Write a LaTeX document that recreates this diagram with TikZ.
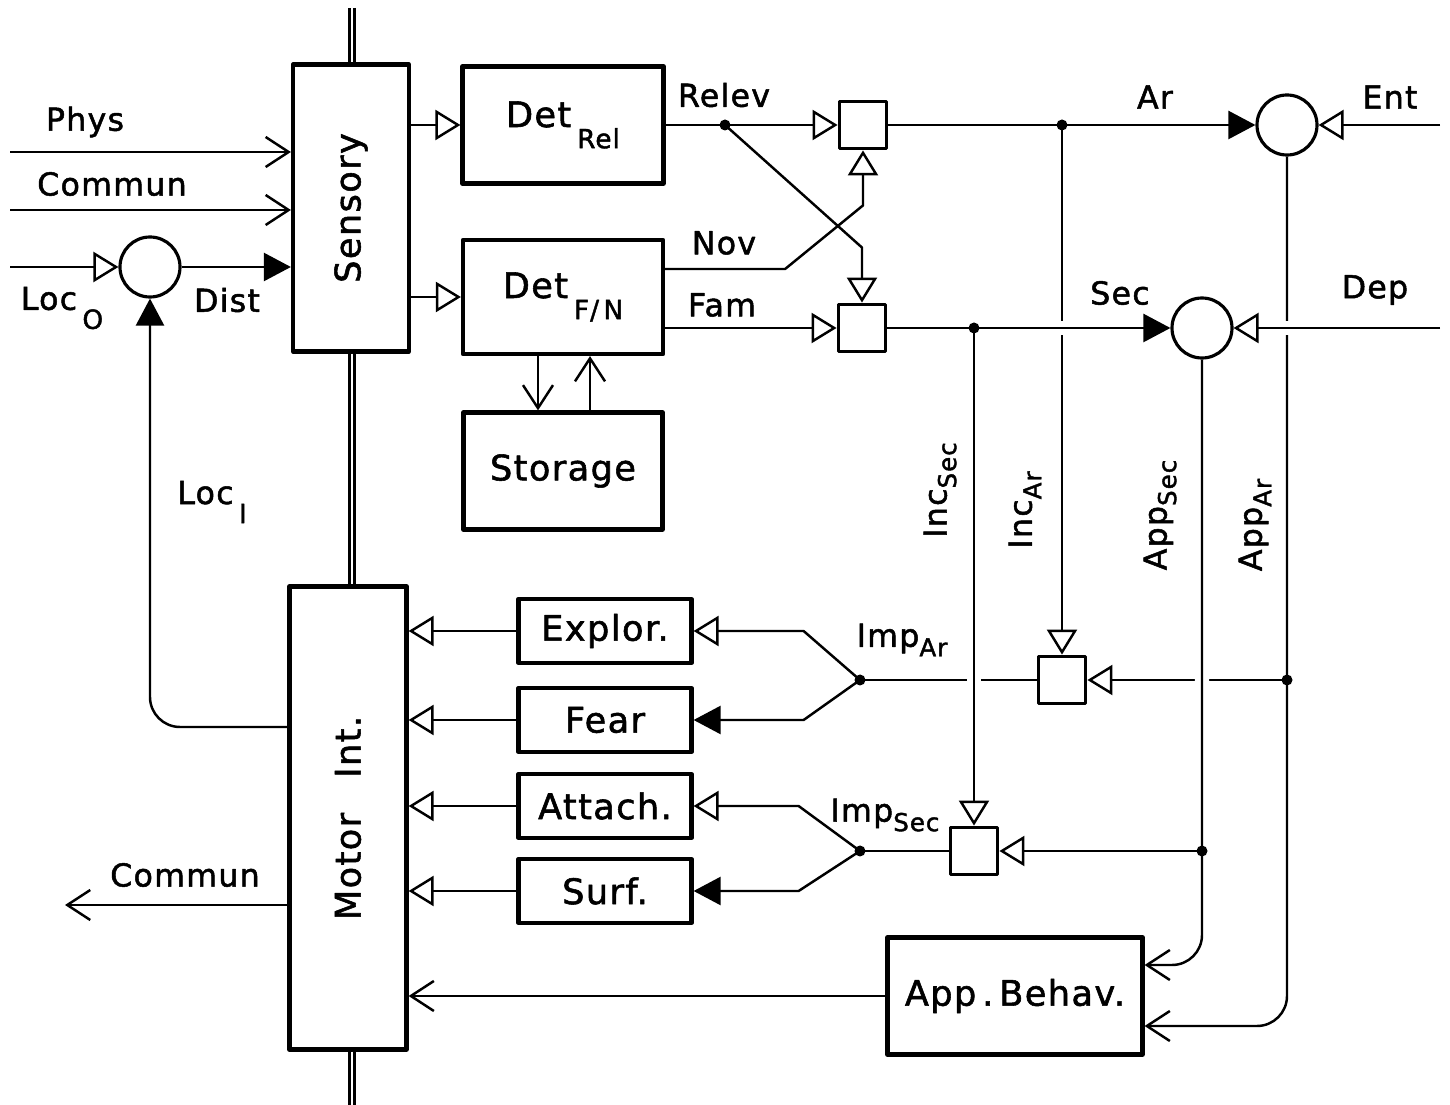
\documentclass[tikz,border=0pt]{standalone}
\usepackage{fontspec}
\setmainfont{DejaVu Sans}[LetterSpace=4, FakeBold=1.6]
\usetikzlibrary{arrows.meta,calc}
\newcommand\boxfont{\fontsize{10}{12}\selectfont}
\newcommand\lblfont{\fontsize{9}{11}\selectfont}
\newcommand\sbs[1]{\raisebox{-0.55ex}{\fontsize{7}{8}\selectfont #1}}
\newcommand\sbl[1]{\raisebox{-1.1ex}{\fontsize{7.5}{8}\selectfont #1}}
\begin{document}
\begin{tikzpicture}[x=0.1mm, y=-0.1mm, line width=0.7pt, line join=round,
	box/.style={draw, line width=1.2pt, inner sep=0pt, font=\boxfont},
	sq/.style={draw, line width=1.1pt, minimum size=4.7mm, inner sep=0pt},
	sumc/.style={draw, circle, line width=0.9pt, minimum size=6mm, inner sep=0pt},
	lbl/.style={font=\lblfont, inner sep=0pt},
	oto/.style={-{Triangle[open, length=2.5mm, width=3mm]}},
	fto/.style={-{Triangle[length=2.7mm, width=2.8mm]}},
	vto/.style={-{Straight Barb[length=2.3mm, width=3mm]}},
	hop/.style={preaction={draw=white, line width=4pt, arrows=-, shorten <=2.5mm, shorten >=2.5mm}},
	bus/.style={double, double distance=0.35pt, line width=0.9pt}]
	\useasboundingbox (0,0) rectangle (1450,1105);
	% blocks
	\node[box, minimum width=11.6mm, minimum height=28.7mm] (sensory) at (351,208) {\rotatebox{90}{Sensory}};
	\node[box, minimum width=20.1mm, minimum height=11.7mm] (detrel) at (563,125) {Det\,\sbl{Rel}};
	\node[box, minimum width=20mm, minimum height=11.4mm] (detfn) at (563,297) {Det\,\sbl{F/\,N}};
	\node[box, minimum width=19.9mm, minimum height=11.7mm] (storage) at (563,471) {Storage};
	\node[box, minimum width=11.7mm, minimum height=46.3mm] (motor) at (348,818) {\rotatebox{90}{Motor\quad Int.}};
	\foreach \n/\t/\y in {explor/Explor./631, fear/Fear/720, attach/Attach./806, surf/Surf./891}
		\node[box, minimum width=17.3mm, minimum height=6.4mm] (\n) at (605,\y) {\t};
	\node[box, minimum width=25.5mm, minimum height=11.7mm] (appbeh) at (1015,996) {App\,.\,Behav.};
	% comparators
	\node[sumc] (cloc) at (150,267) {};
	\node[sumc] (car) at (1287,125) {};
	\node[sumc] (csec) at (1202,328) {};
	\node[sq] (sqrel) at (863,125) {};
	\node[sq] (sqfam) at (862,328) {};
	\node[sq] (sqar) at (1062,680) {};
	\node[sq] (sqsec) at (974,851) {};
	% junctions and free ends
	\coordinate (drelev) at (725,125);
	\coordinate (dar) at (1062,125);
	\coordinate (dsec) at (974,328);
	\coordinate (dimpar) at (860,680);
	\coordinate (dimpsec) at (860,851);
	\coordinate (dappar) at (1287,680);
	\coordinate (dappsec) at (1202,851);
	\coordinate (physin) at (10,152);
	\coordinate (commin) at (10,210);
	\coordinate (locin) at (10,267);
	\coordinate (commout) at (65,905);
	\coordinate (entin) at (1440,125);
	\coordinate (depin) at (1440,328);
	\coordinate (bustop) at (352,8);
	\coordinate (busbot) at (352,1105);
	% bus
	\draw[bus] (bustop) -- (bustop |- sensory.north);
	\draw[bus] (bustop |- sensory.south) -- (bustop |- motor.north);
	\draw[bus] (bustop |- motor.south) -- (busbot);
	% left side
	\draw[vto] (physin) -- (physin -| sensory.west);
	\draw[vto] (commin) -- (commin -| sensory.west);
	\draw[oto] (locin) -- (cloc);
	\draw[fto] (cloc) -- (cloc -| sensory.west);
	\draw[fto, rounded corners=3mm] ($(motor.west)+(0,-91)$) -| (cloc.south);
	\draw[vto] (commout -| motor.west) -- (commout);
	% detectors
	\draw[oto] (sensory.east |- detrel) -- (detrel.west);
	\draw[oto] (sensory.east |- detfn) -- (detfn.west);
	\draw[vto] ($(detfn.south)+(-25,0)$) -- ($(storage.north)+(-25,0)$);
	\draw[vto] ($(storage.north)+(27,0)$) -- ($(detfn.south)+(27,0)$);
	\draw (detrel.east) -- (drelev);
	\draw[oto] (drelev) -- (sqrel.west);
	\draw[oto] (drelev) -- ($(sqfam.north)+(0,-55)$) -- (sqfam.north);
	\draw[oto] ($(detfn.east)+(0,-28)$) -- ++(120,0) -- ($(sqrel.south)+(0,55)$) -- (sqrel.south);
	\draw[oto] ($(detfn.east)+(0,31)$) -- (sqfam.west);
	% arousal / security
	\draw (sqrel.east) -- (dar);
	\draw[fto] (dar) -- (car.west);
	\draw[oto] (entin) -- (car.east);
	\draw[oto] (dar) -- (sqar.north);
	\draw[vto, rounded corners=3mm] (car.south) |- ($(appbeh.east)+(0,30)$);
	\draw (sqfam.east) -- (dsec);
	\draw[fto, hop] (dsec) -- (csec.west);
	\draw[oto, hop] (depin) -- (csec.east);
	\draw (dimpar) -- (sqar.west);
	\draw[oto] (dappar) -- (sqar.east);
	\draw[oto, hop] (dsec) -- (sqsec.north);
	\draw[vto, hop, rounded corners=3mm] (csec.south) |- ($(appbeh.east)+(0,-31)$);
	\draw[oto] (dappsec) -- (sqsec.east);
	\draw (dimpsec) -- (sqsec.west);
	% behaviour systems
	\foreach \b/\c/\t/\d in {explor/dimpar/oto/110, fear/dimpar/fto/110, attach/dimpsec/oto/105, surf/dimpsec/fto/105}
		\draw[\t] (\c) -- ($(\b.east)+(\d,0)$) -- (\b.east);
	\foreach \b in {explor,fear,attach,surf}
		\draw[oto] (\b.west) -- (\b.west -| motor.east);
	\draw[vto] (appbeh.west) -- (appbeh.west -| motor.east);
	\foreach \d in {drelev,dar,dsec,dimpar,dimpsec,dappar,dappsec}
		\fill (\d) circle (0.55mm);
	% labels
	\node[lbl] at (85,122) {Phys};
	\node[lbl] at (112,184) {Commun};
	\node[lbl] at (62,308) {Loc\,\sbl{O}};
	\node[lbl] at (227,300) {Dist};
	\node[lbl] at (212,502) {Loc\,\sbl{I}};
	\node[lbl] at (185,875) {Commun};
	\node[lbl] at (724,95) {Relev};
	\node[lbl] at (724,243) {Nov};
	\node[lbl] at (722,305) {Fam};
	\node[lbl] at (1155,97) {Ar};
	\node[lbl] at (1390,97) {Ent};
	\node[lbl] at (1120,293) {Sec};
	\node[lbl] at (1375,290) {Dep};
	\node[lbl, rotate=90] at (940,490) {Inc\sbs{Sec}};
	\node[lbl, rotate=90] at (1025,510) {Inc\sbs{Ar}};
	\node[lbl, rotate=90] at (1160,515) {App\sbs{Sec}};
	\node[lbl, rotate=90] at (1255,525) {App\sbs{Ar}};
	\node[lbl] at (902,640) {Imp\sbs{Ar}};
	\node[lbl] at (885,815) {Imp\sbs{Sec}};
\end{tikzpicture}
\end{document}
